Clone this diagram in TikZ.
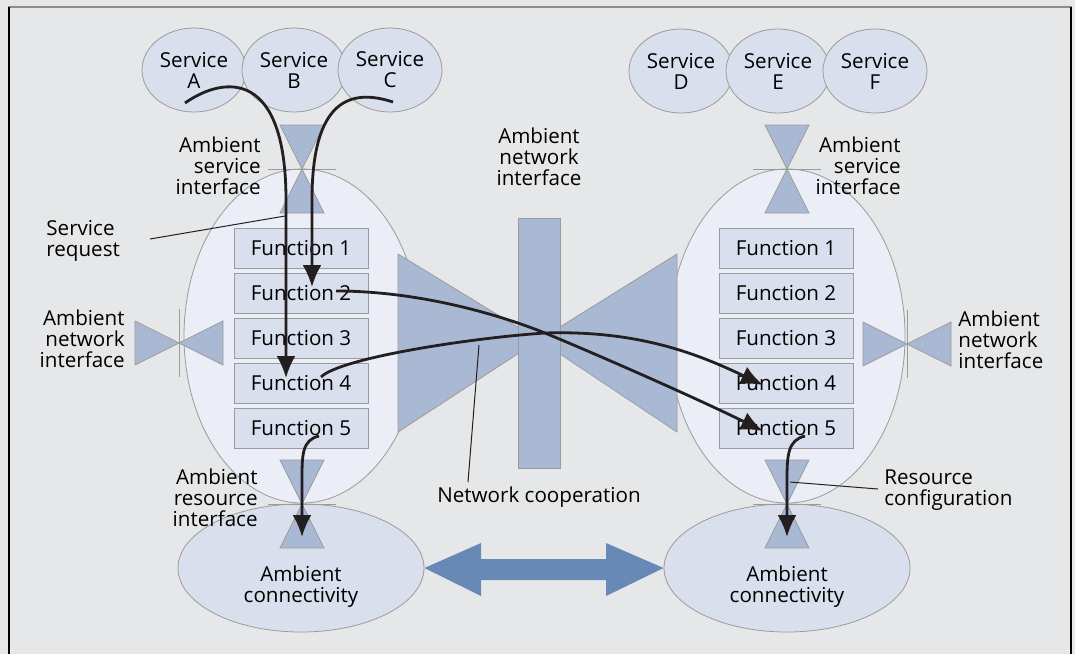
\documentclass[tikz,border=0pt]{standalone}
\usepackage{fontspec}
\setmainfont{Open Sans}
\usetikzlibrary{arrows.meta,positioning,shapes}

\definecolor{paper}{HTML}{E6E7E8}
\definecolor{edgegray}{HTML}{9B9B9B}
\definecolor{framegray}{HTML}{8C8C8C}
\definecolor{svcblue}{HTML}{D9DFEC}
\definecolor{ambfill}{HTML}{EBEEF6}
\definecolor{ifblue}{HTML}{A9B9D4}
\definecolor{linkblue}{HTML}{6889B6}
\definecolor{flowblack}{HTML}{231F20}

\begin{document}
\begin{tikzpicture}[x=0.5pt,y=-0.5pt]
    \fontsize{10.3}{10.5}\selectfont
    \tikzstyle{svc} = [ellipse, draw=edgegray, fill=svcblue, inner sep=0pt,
    minimum width=52pt, minimum height=42pt, align=center]
    \tikzstyle{ambient} = [ellipse, draw=edgegray, fill=ambfill,
    minimum width=118pt, minimum height=167pt]
    \tikzstyle{conn} = [ellipse, draw=edgegray, fill=svcblue,
    minimum width=123pt, minimum height=64pt]
    \tikzstyle{func} = [draw=edgegray, fill=svcblue, inner sep=0pt,
    minimum width=67pt, minimum height=20pt]
    \tikzstyle{iface} = [draw=edgegray, fill=ifblue]
    \tikzstyle{txt} = [inner sep=0pt, align=center]
    \tikzstyle{flow} = [line width=1.4pt, draw=flowblack,
    -{Latex[length=11pt,width=9.5pt]}]
    \tikzstyle{pointer} = [line width=0.5pt, draw=flowblack]

    % frame
    \fill[paper] (0,0) rectangle (1075,654);
    \useasboundingbox (0,0) rectangle (1075,654);
    \draw[line width=1pt, framegray] (8,7) -- (1072,7);
    \draw[line width=0.6pt] (9,7) -- (9,654) (1071,7) -- (1071,654);

    % ambient networks and connectivity
    \node[ambient] (lnet) at (302,336) {};
    \node[ambient] (rnet) at (787,336) {};
    \node[conn] (lconn) at (301,568) {};
    \node[conn] (rconn) at (787,568) {};
    \node[txt] (lconnlbl) at (301,587) {Ambient\\connectivity};
    \node[txt] (rconnlbl) at (787,587) {Ambient\\connectivity};

    % services
    \node[svc] (sa) at (194,70) {Service\\A};
    \node[svc] (sb) at (294,70) {Service\\B};
    \node[svc] (sc) at (390,70) {Service\\C};
    \node[svc] (sd) at (681,71) {Service\\D};
    \node[svc] (se) at (778,71) {Service\\E};
    \node[svc] (sf) at (875,71) {Service\\F};

    % service and resource interfaces
    \foreach \x/\y in {302/169, 787/169, 302/504, 787/504} {
      \draw[iface] (\x-22,\y-44) -- (\x+22,\y-44) -- (\x,\y) -- cycle;
      \draw[iface] (\x-22,\y+44) -- (\x+22,\y+44) -- (\x,\y) -- cycle;
      \draw[edgegray] (\x-34,\y) -- (\x+34,\y);
    }
    % network interfaces at the sides
    \foreach \x/\y in {179/343, 907/344} {
      \draw[iface] (\x-44,\y-22) -- (\x-44,\y+22) -- (\x,\y) -- cycle;
      \draw[iface] (\x+44,\y-22) -- (\x+44,\y+22) -- (\x,\y) -- cycle;
      \draw[edgegray] (\x,\y-34) -- (\x,\y+34);
    }
    % network interface in the middle
    \draw[iface] (398,254) -- (539,340) -- (398,432) -- cycle;
    \draw[iface] (677,254) -- (539,340) -- (677,432) -- cycle;
    \draw[iface] (518,218) rectangle (560,468);

    % functions
    \foreach \i in {1,...,5} {
      \node[func] (lf\i) at (301,{248+45*(\i-1)}) {Function \i};
      \node[func] (rf\i) at (786,{248+45*(\i-1)}) {Function \i};
    }

    % labels
    \node[txt, align=right, anchor=east] (lasi) at (261,166)
      {Ambient\\service\\interface};
    \node[txt, align=right, anchor=east] (rasi) at (901,166)
      {Ambient\\service\\interface};
    \node[txt, align=left, anchor=west] (sreq) at (46,241) {Service\\request};
    \node[txt, align=right, anchor=east] (lani) at (125,339)
      {Ambient\\network\\interface};
    \node[txt, align=left, anchor=west] (rani) at (958,340)
      {Ambient\\network\\interface};
    \node[txt] (cani) at (539,157) {Ambient\\network\\interface};
    \node[txt, align=right, anchor=east] (lari) at (258,498)
      {Ambient\\resource\\interface};
    \node[txt] (ncoop) at (539,497) {Network cooperation};
    \node[txt, align=left, anchor=west] (rcfg) at (884,490)
      {Resource\\configuration};

    % flow ends
    \coordinate (aout) at (185,103);
    \coordinate (cout) at (393,102);
    \coordinate (ain) at (286,378);
    \coordinate (cin) at (312,287);
    \coordinate (l2out) at (336,291);
    \coordinate (l4out) at (321,377);
    \coordinate (l5out) at (319,436);
    \coordinate (r5out) at (805,436);
    \coordinate (r4in) at (763,385);
    \coordinate (r5in) at (763,431);
    \coordinate (lresin) at (302,537);
    \coordinate (rresin) at (787,537);
    \coordinate (cross) at (545,333);

    % flows
    \draw[flow] (aout) .. controls (225,75) and (286,70) .. (286,200) -- (ain);
    \draw[flow] (cout) .. controls (350,88) and (312,100) .. (312,200) -- (cin);
    \draw[flow] (l2out) .. controls (420,291) and (500,315) .. (cross)
      .. controls (610,360) and (700,400) .. (r5in);
    \draw[flow] (l4out) .. controls (340,358) and (470,338) .. (cross)
      .. controls (640,330) and (700,355) .. (r4in);
    \draw[flow] (l5out) .. controls (302,440) and (302,455) .. (302,480) -- (lresin);
    \draw[flow] (r5out) .. controls (788,440) and (787,455) .. (787,480) -- (rresin);

    % connectivity link
    \fill[linkblue] (lconn.east) -- (481,543) -- (481,559) -- (606,559)
      -- (606,543) -- (rconn.west) -- (606,596) -- (606,580) -- (481,580)
      -- (481,596) -- cycle;

    % pointers
    \coordinate (sreqp) at (150,239);
    \coordinate (sreqq) at (285,216);
    \coordinate (ncoopp) at (468,482);
    \coordinate (ncoopq) at (479,345);
    \coordinate (rcfgp) at (878,489);
    \coordinate (rcfgq) at (790,482);
    \draw[pointer] (sreqp) -- (sreqq);
    \draw[pointer] (ncoopp) -- (ncoopq);
    \draw[pointer] (rcfgp) -- (rcfgq);
\end{tikzpicture}
\end{document}
